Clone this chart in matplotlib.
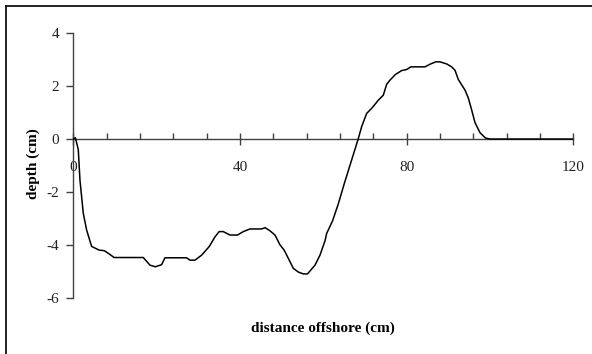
import matplotlib
matplotlib.use("Agg")
import matplotlib.pyplot as plt
from matplotlib.ticker import MultipleLocator
from matplotlib.lines import Line2D

distance = [0, 0.5, 1.2, 1.6, 2.4, 3.2, 4.4, 6.2, 7.4, 8.4, 9.8, 16.8, 18.4, 19.7,
            21.2, 22, 27.2, 28, 29.2, 30.8, 32.6, 34, 35, 36, 37.6, 39.4, 40.8,
            42.4, 45.2, 46, 47.2, 48.4, 49.6, 50.6, 51.6, 52.8, 54, 55.2, 56.2,
            58, 59.2, 60.4, 60.8, 62.2, 63.6, 65, 66.8, 68.4, 69.2, 70.4, 71.6,
            73.2, 74.4, 75.2, 76, 77.3, 78.8, 80, 81, 84.4, 85.6, 87, 88, 89.6,
            90.8, 91.6, 92.4, 94.0, 94.8, 95.6, 96.4, 97.6, 98.9, 100, 120]
depth = [0, 0.05, -0.4, -1.55, -2.81, -3.44, -4.06, -4.2, -4.22, -4.32, -4.48,
         -4.48, -4.77, -4.83, -4.75, -4.49, -4.49, -4.58, -4.58, -4.39, -4.07,
         -3.7, -3.5, -3.5, -3.63, -3.63, -3.5, -3.4, -3.4, -3.35, -3.47, -3.63,
         -4.0, -4.2, -4.51, -4.89, -5.03, -5.1, -5.1, -4.77, -4.39, -3.85, -3.57,
         -3.1, -2.45, -1.7, -0.79, 0.02, 0.47, 0.97, 1.16, 1.47, 1.66, 2.07,
         2.23, 2.44, 2.59, 2.63, 2.73, 2.73, 2.83, 2.92, 2.92, 2.84, 2.73, 2.6,
         2.25, 1.85, 1.55, 1.1, 0.62, 0.24, 0.04, 0, 0]
assert len(distance) == len(depth)

x_ticks = [0, 40, 80, 120]
y_ticks = [-6, -4, -2, 0, 2, 4]

plt.rcParams['font.family'] = ['Liberation Serif', 'DejaVu Serif']
fig = plt.figure(figsize=(5.92, 3.54), dpi=100)
ax = fig.add_axes([0.1238, 0.159, 0.8447, 0.747])

ax.plot(distance, depth, color='black', lw=1.1, zorder=3)
ax.set_xlim(0, 120)
ax.set_ylim(-6, 4)

axis_color = '#404040'
ax.spines['top'].set_visible(False)
ax.spines['right'].set_visible(False)
ax.spines['bottom'].set_position(('data', 0))
ax.spines['bottom'].set_color(axis_color)
ax.spines['left'].set_color(axis_color)
ax.spines['bottom'].set_linewidth(1.0)
ax.spines['left'].set_linewidth(1.0)

ax.set_xticks(x_ticks)
ax.set_xticklabels([str(v) for v in x_ticks])
ax.xaxis.set_minor_locator(MultipleLocator(8))
ax.tick_params(axis='x', which='major', direction='inout', length=8, width=1,
               color=axis_color, labelsize=11, pad=12, labelcolor='#222222')
ax.tick_params(axis='x', which='minor', direction='in', length=4, width=1,
               color=axis_color)
ax.set_yticks(y_ticks)
ax.set_yticklabels([str(v) for v in y_ticks])
ax.tick_params(axis='y', which='major', direction='out', length=5, width=1,
               color=axis_color, labelsize=11, pad=5, labelcolor='#222222')

fig.text(0.5 * (0.1238 + 0.9685), 1 - 328 / 354, 'distance offshore (cm)',
         ha='center', va='center', fontsize=11, fontweight='bold')
fig.text(33 / 592, 1 - 164 / 354, 'depth (cm)', rotation=90,
         ha='center', va='center', fontsize=11, fontweight='bold')

bx = 5.5 / 592
by = 1 - 5.5 / 354
fig.lines.append(Line2D([bx, 1.0], [by, by], transform=fig.transFigure,
                        color='black', lw=1.2, figure=fig))
fig.lines.append(Line2D([bx, bx], [0.0, by], transform=fig.transFigure,
                        color='black', lw=1.2, figure=fig))

fig.savefig('out.png', dpi=100)
